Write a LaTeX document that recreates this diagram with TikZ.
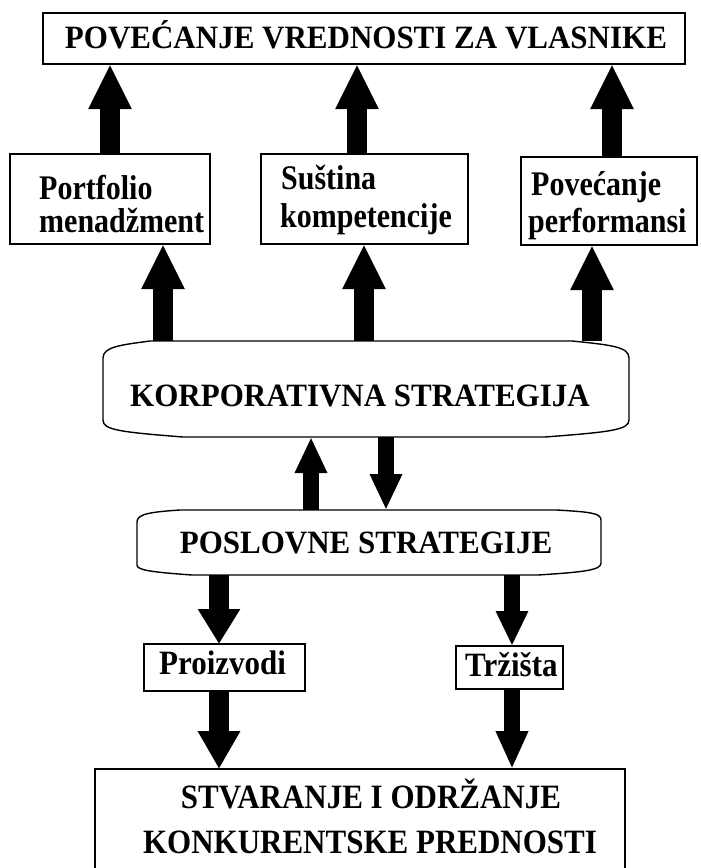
\documentclass[tikz,border=0pt]{standalone}
\usepackage{fontspec}
\setmainfont{Liberation Serif}
\usetikzlibrary{arrows.meta}

\newcommand{\tallText}[2]{\scalebox{1}[#1]{#2}}

\tikzset{
  box/.style={draw, line width=1.4pt, rectangle, inner sep=0pt, outer sep=0pt},
  frame/.style={rectangle, inner sep=0pt, outer sep=0pt},
  outline/.style={draw, line width=1.4pt},
  label/.style={font=\bfseries\fontsize{31}{36}\selectfont, inner sep=0pt},
  smalllabel/.style={font=\bfseries\fontsize{30}{34}\selectfont, inner sep=0pt},
  bigarrow/.style={line width=20pt, -{Triangle[width=40pt,length=#1]}},
  bigarrow/.default=45pt,
  smallarrow/.style={line width=16pt, -{Triangle[width=30pt,length=#1]}},
  smallarrow/.default=36pt
}

\begin{document}
\begin{tikzpicture}[x=1pt,y=-1pt]
\useasboundingbox (0,0) rectangle (701,868);

% top goal
\node[box, minimum width=642pt, minimum height=51pt] (goal) at (364,38.5) {};
\node[label, anchor=base] (goaltxt) at (366,48) {\tallText{1.05}{POVEĆANJE VREDNOSTI ZA VLASNIKE}};

% three corporate levers
\node[box, minimum width=200pt, minimum height=90pt] (pm) at (110,199) {};
\node[box, minimum width=207pt, minimum height=90pt] (sk) at (364.5,199) {};
\node[box, minimum width=176pt, minimum height=88pt] (pp) at (609,201) {};
\node[smalllabel, anchor=base west] (pm1) at (39,199) {\tallText{1.15}{Portfolio}};
\node[smalllabel, anchor=base west] (pm2) at (39,232) {\tallText{1.15}{menadžment}};
\node[smalllabel, anchor=base west] (sk1) at (281,189) {\tallText{1.15}{Suština}};
\node[smalllabel, anchor=base west] (sk2) at (280,227) {\tallText{1.15}{kompetencije}};
\node[smalllabel, anchor=base west] (pp1) at (531,195) {\tallText{1.15}{Povećanje}};
\node[smalllabel, anchor=base west] (pp2) at (528,232) {\tallText{1.15}{performansi}};

% corporate strategy
\node[frame, minimum width=526pt, minimum height=96pt] (korp) at (366,389) {};
\draw[outline] (103,358) .. controls (103,347) and (120,345) .. (150,341)
  -- (572,341) .. controls (612,345) and (629,347) .. (629,358)
  -- (629,420) .. controls (629,430) and (610,432) .. (545,437)
  -- (183,437) .. controls (120,432) and (103,430) .. (103,420) -- cycle;
\node[label, anchor=base] (korptxt) at (360,406) {\tallText{1.05}{KORPORATIVNA STRATEGIJA}};

% business strategies
\node[frame, minimum width=464pt, minimum height=65pt] (posl) at (369,542.5) {};
\draw[outline] (137,522) .. controls (137,514) and (150,512) .. (180,510)
  -- (557,510) .. controls (590,512) and (601,513) .. (601,520)
  -- (601,563) .. controls (601,570) and (585,572) .. (538,575)
  -- (192,575) .. controls (150,572) and (137,570) .. (137,565) -- cycle;
\node[label, anchor=base] (posltxt) at (366,553) {\tallText{1.05}{POSLOVNE STRATEGIJE}};

% products and markets
\node[box, minimum width=161pt, minimum height=47pt] (proiz) at (224.5,667.5) {};
\node[label, anchor=base west] (proiztxt) at (159,674) {\tallText{1.1}{Proizvodi}};
\node[box, minimum width=107pt, minimum height=43pt] (trz) at (509.5,667.5) {};
\node[label, anchor=base west] (trztxt) at (465,676) {\tallText{1.1}{Tržišta}};

% competitive advantage
\node[box, minimum width=530pt, minimum height=111pt] (adv) at (360,824.5) {};
\node[label, anchor=base] (adv1) at (371,808) {\tallText{1.1}{STVARANJE I ODRŽANJE}};
\node[label, anchor=base] (adv2) at (370,853) {\tallText{1.1}{KONKURENTSKE PREDNOSTI}};

% arrow columns
\coordinate (c1) at (110,0);
\coordinate (c2) at (357,0);
\coordinate (c3) at (612,0);
\coordinate (d1) at (163,0);
\coordinate (d2) at (364,0);
\coordinate (d3) at (592,0);
\coordinate (e1) at (311,0);
\coordinate (e2) at (386,0);
\coordinate (f1) at (219,0);
\coordinate (f2) at (512,0);

% levers feed owner value
\draw[bigarrow] (pm.north -| c1) -- (goal.south -| c1);
\draw[bigarrow] (sk.north -| c2) -- (goal.south -| c2);
\draw[bigarrow] (pp.north -| c3) -- (goal.south -| c3);

% corporate strategy drives the levers
\draw[bigarrow] (korp.north -| d1) -- (pm.south -| d1);
\draw[bigarrow] (korp.north -| d2) -- (sk.south -| d2);
\draw[bigarrow] (korp.north -| d3) -- (pp.south -| d3);

% two-way link between corporate and business level
\draw[smallarrow] (posl.north -| e1) -- (korp.south -| e1);
\draw[smallarrow] (korp.south -| e2) -- (posl.north -| e2);

% business strategies to products and markets
\draw[bigarrow=35pt] (posl.south -| f1) -- (proiz.north -| f1);
\draw[smallarrow=35pt] (posl.south -| f2) -- (trz.north -| f2);

% products and markets to competitive advantage
\draw[bigarrow=38pt] (proiz.south -| f1) -- (adv.north -| f1);
\draw[smallarrow=38pt] (trz.south -| f2) -- (adv.north -| f2);
\end{tikzpicture}
\end{document}
